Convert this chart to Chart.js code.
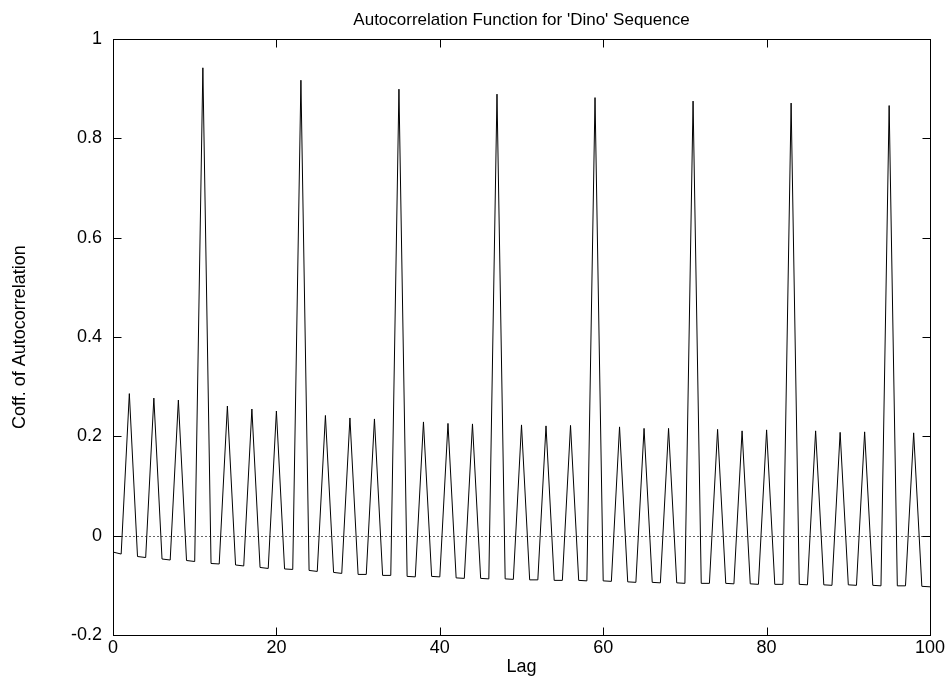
<!DOCTYPE html>
<html>
<head>
<meta charset="utf-8">
<script src="https://cdn.jsdelivr.net/npm/chart.js@4.4.0/dist/chart.umd.min.js"></script>
<style>
  html, body { margin: 0; padding: 0; background: #fff; }
</style>
</head>
<body>
<canvas id="acf" width="949" height="683"></canvas>
<script>
// lag values (x) and autocorrelation coefficients (y)
const lags = [
  0, 1, 2, 3, 4, 5, 6, 7, 8, 9, 10, 11, 12, 13, 14, 15, 16, 17, 18, 19,
  20, 21, 22, 23, 24, 25, 26, 27, 28, 29, 30, 31, 32, 33, 34, 35, 36, 37, 38, 39,
  40, 41, 42, 43, 44, 45, 46, 47, 48, 49, 50, 51, 52, 53, 54, 55, 56, 57, 58, 59,
  60, 61, 62, 63, 64, 65, 66, 67, 68, 69, 70, 71, 72, 73, 74, 75, 76, 77, 78, 79,
  80, 81, 82, 83, 84, 85, 86, 87, 88, 89, 90, 91, 92, 93, 94, 95, 96, 97, 98, 99, 100
]
const coeffs = [
  -0.033, -0.037, 0.286, -0.042, -0.044, 0.277, -0.047, -0.049, 0.273, -0.050,
  -0.052, 0.942, -0.056, -0.057, 0.261, -0.059, -0.061, 0.255, -0.064, -0.066,
  0.251, -0.067, -0.068, 0.917, -0.070, -0.072, 0.242, -0.074, -0.076, 0.237,
  -0.078, -0.078, 0.235, -0.080, -0.080, 0.899, -0.082, -0.083, 0.229, -0.082,
  -0.083, 0.226, -0.085, -0.086, 0.225, -0.086, -0.087, 0.889, -0.087, -0.088,
  0.223, -0.089, -0.089, 0.221, -0.090, -0.090, 0.222, -0.090, -0.091, 0.882,
  -0.091, -0.092, 0.219, -0.093, -0.094, 0.216, -0.094, -0.095, 0.216, -0.095,
  -0.096, 0.875, -0.096, -0.096, 0.214, -0.096, -0.097, 0.211, -0.097, -0.098,
  0.213, -0.098, -0.098, 0.871, -0.098, -0.099, 0.211, -0.099, -0.100, 0.208,
  -0.099, -0.100, 0.209, -0.100, -0.101, 0.866, -0.101, -0.101, 0.207, -0.102,
  -0.103
]
const xTicks = [0, 20, 40, 60, 80, 100]
const yTicks = [-0.2, 0, 0.2, 0.4, 0.6, 0.8, 1]

const FONT = "'Liberation Sans', Arial, Helvetica, sans-serif"

// gnuplot style box: frame, inward ticks on all four sides, dotted zero line
const gnuplotFrame = {
  id: 'gnuplotFrame',
  beforeDatasetsDraw(chart) {
    const { ctx, chartArea: a, scales: { y } } = chart
    const y0 = Math.round(y.getPixelForValue(0)) + 0.5
    ctx.save()
    ctx.strokeStyle = '#666'
    ctx.lineWidth = 1
    ctx.setLineDash([2, 2])
    ctx.beginPath()
    ctx.moveTo(a.left, y0)
    ctx.lineTo(a.right, y0)
    ctx.stroke()
    ctx.restore()
  },
  afterDatasetsDraw(chart) {
    const { ctx, chartArea: a, scales: { x, y } } = chart
    const L = Math.round(a.left) + 0.5, R = Math.round(a.right) + 0.5
    const T = Math.round(a.top) + 0.5, B = Math.round(a.bottom) + 0.5
    const len = 8
    ctx.save()
    ctx.strokeStyle = '#000'
    ctx.lineWidth = 1
    ctx.beginPath()
    yTicks.forEach(v => {
      const py = Math.round(y.getPixelForValue(v)) + 0.5
      ctx.moveTo(L, py); ctx.lineTo(L + len, py)
      ctx.moveTo(R, py); ctx.lineTo(R - len, py)
    })
    xTicks.forEach(v => {
      const px = Math.round(x.getPixelForValue(v)) + 0.5
      ctx.moveTo(px, B); ctx.lineTo(px, B - len)
      ctx.moveTo(px, T); ctx.lineTo(px, T + len)
    })
    ctx.stroke()
    ctx.strokeRect(L, T, R - L, B - T)
    ctx.restore()
  }
}

new Chart(document.getElementById('acf').getContext('2d'), {
  type: 'line',
  data: {
    datasets: [{
      data: lags.map((l, i) => ({ x: l, y: coeffs[i] })),
      borderColor: '#000',
      borderWidth: 1,
      pointRadius: 0,
      tension: 0,
      fill: false
    }]
  },
  options: {
    responsive: false,
    animation: false,
    layout: { padding: { left: 0, right: 19, top: 0, bottom: 0 } },
    plugins: {
      legend: { display: false },
      tooltip: { enabled: false },
      title: {
        display: true,
        fullSize: false,
        text: "Autocorrelation Function for 'Dino' Sequence",
        color: '#000',
        font: { family: FONT, size: 17, weight: 'normal' },
        padding: { top: 10, bottom: 8.6 }
      }
    },
    scales: {
      x: {
        type: 'linear',
        min: 0,
        max: 100,
        grid: { display: false, drawTicks: false },
        border: { display: false },
        afterBuildTicks: s => { s.ticks = xTicks.map(v => ({ value: v })) },
        afterFit: s => { s.height = 48 },
        ticks: {
          color: '#000',
          padding: 2,
          maxRotation: 0,
          font: { family: FONT, size: 18 }
        },
        title: {
          display: true,
          text: 'Lag',
          color: '#000',
          font: { family: FONT, size: 18 },
          padding: { top: 0, bottom: 5 }
        }
      },
      y: {
        type: 'linear',
        min: -0.2,
        max: 1,
        grid: { display: false, drawTicks: false },
        border: { display: false },
        afterBuildTicks: s => { s.ticks = yTicks.map(v => ({ value: v })) },
        afterFit: s => { s.width = 113 },
        ticks: {
          color: '#000',
          padding: 11,
          font: { family: FONT, size: 18 },
          callback: v => String(Math.round(v * 10) / 10)
        },
        title: {
          display: true,
          text: 'Coff. of Autocorrelation',
          color: '#000',
          font: { family: FONT, size: 18 },
          padding: { top: 9, bottom: 0 }
        }
      }
    }
  },
  plugins: [gnuplotFrame]
})
</script>
</body>
</html>
